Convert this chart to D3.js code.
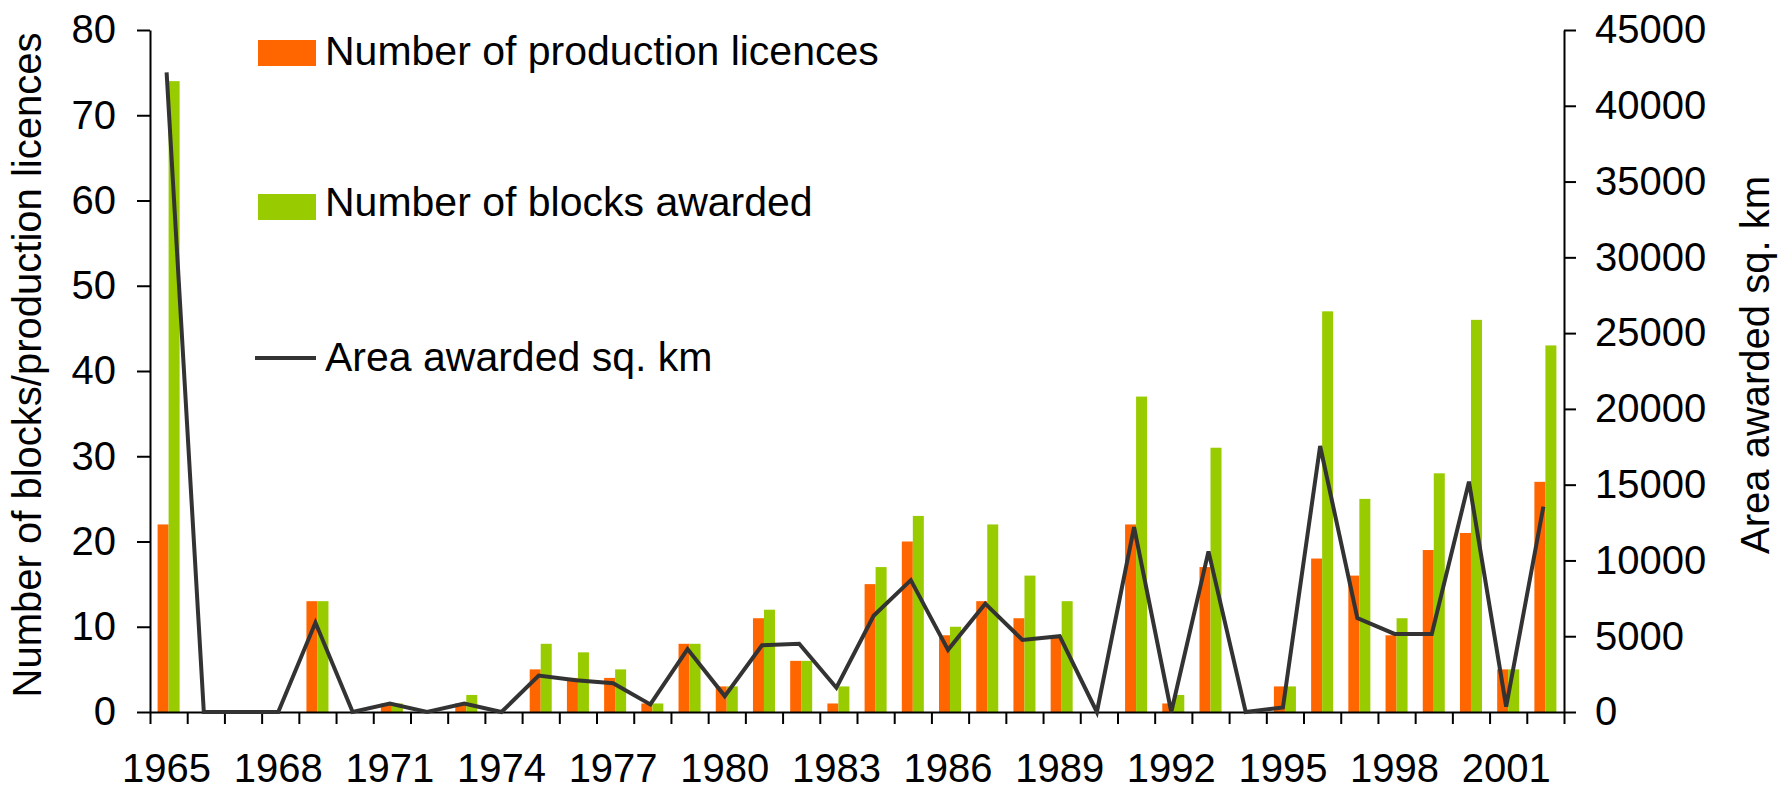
<!DOCTYPE html>
<html>
<head>
<meta charset="utf-8">
<script src="https://cdn.jsdelivr.net/npm/d3@7"></script>
<style>
    body { margin: 0; background: #fff; }
    text { font-family: "Liberation Sans", Arial, sans-serif; fill: #000; }
    .axis path, .axis line { stroke: #000; stroke-width: 2px; }
    .axis text { font-size: 40px; }
</style>
</head>
<body>
<div id="chart"></div>
<script>

// chart values
const years = [1965, 1966, 1967, 1968, 1969, 1970, 1971, 1972, 1973, 1974,
    1975, 1976, 1977, 1978, 1979, 1980, 1981, 1982, 1983, 1984,
    1985, 1986, 1987, 1988, 1989, 1990, 1991, 1992, 1993, 1994,
    1995, 1996, 1997, 1998, 1999, 2000, 2001, 2002];
const yearLabels = [1965, 1968, 1971, 1974, 1977, 1980, 1983, 1986, 1989, 1992, 1995, 1998, 2001];

const productionLicences = [22, 0, 0, 0, 13, 0, 1, 0, 1, 0,
    5, 4, 4, 1, 8, 3, 11, 6, 1, 15,
    20, 9, 13, 11, 9, 0, 22, 1, 17, 0,
    3, 18, 16, 9, 19, 21, 5, 27];
const blocksAwarded = [74, 0, 0, 0, 13, 0, 1, 0, 2, 0,
    8, 7, 5, 1, 8, 3, 12, 6, 3, 17,
    23, 10, 22, 16, 13, 0, 37, 2, 31, 0,
    3, 47, 25, 11, 28, 46, 5, 43];
const areaAwarded = [42200, 0, 0, 0, 5900, 0, 550, 0, 550, 0,
    2400, 2100, 1900, 500, 4150, 1050, 4400, 4500, 1600, 6350,
    8700, 4100, 7150, 4750, 5000, 0, 12200, 0, 10600, 0,
    300, 17550, 6200, 5150, 5150, 15200, 350, 13550];

const leftTicks = [0, 10, 20, 30, 40, 50, 60, 70, 80];
const rightTicks = [0, 5000, 10000, 15000, 20000, 25000, 30000, 35000, 40000, 45000];

const seriesNames = ["Number of production licences", "Number of blocks awarded", "Area awarded sq. km"];


class ComboVis {

    constructor(parentElement) {
        this.parentElement = parentElement;
        this.colors = {licences: "#FF6600", blocks: "#99CC00", area: "#333333"};
        this.initVis();
    }

    initVis() {
        let vis = this;

        vis.width = 1783;
        vis.height = 791;
        vis.left = 150;
        vis.right = 1564;
        vis.top = 30;
        vis.bottom = 712;

        vis.svg = d3.select("#" + vis.parentElement).append("svg")
            .attr("width", vis.width)
            .attr("height", vis.height);

        // scales
        vis.x = d3.scaleBand()
            .domain(years)
            .range([vis.left, vis.right]);

        vis.xEdge = d3.scaleLinear()
            .domain([0, years.length])
            .range([vis.left, vis.right]);

        vis.xInner = d3.scaleBand()
            .domain(["licences", "blocks"])
            .range([0, vis.x.bandwidth()])
            .paddingOuter(0.69);

        vis.yLeft = d3.scaleLinear()
            .domain([0, 80])
            .range([vis.bottom, vis.top]);

        vis.yRight = d3.scaleLinear()
            .domain([0, 45000])
            .range([vis.bottom, vis.top]);

        vis.wrangleData();
    }

    wrangleData() {
        let vis = this;

        vis.displayData = years.map((y, i) => ({
            year: y,
            licences: productionLicences[i],
            blocks: blocksAwarded[i],
            area: areaAwarded[i]
        }));

        vis.updateVis();
    }

    updateVis() {
        let vis = this;

        // bars
        let groups = vis.svg.append("g").selectAll(".year")
            .data(vis.displayData)
            .enter()
            .append("g")
            .attr("class", "year")
            .attr("transform", d => "translate(" + vis.x(d.year) + ",0)");

        groups.selectAll("rect")
            .data(d => ["licences", "blocks"].map(k => ({key: k, value: d[k]})))
            .enter()
            .append("rect")
            .attr("x", d => vis.xInner(d.key))
            .attr("width", vis.xInner.bandwidth())
            .attr("y", d => vis.yLeft(d.value))
            .attr("height", d => vis.bottom - vis.yLeft(d.value))
            .attr("fill", d => vis.colors[d.key]);

        // axes
        vis.svg.append("g")
            .attr("class", "axis x-axis")
            .attr("transform", "translate(0," + vis.bottom + ")")
            .call(d3.axisBottom(vis.xEdge)
                .tickValues(d3.range(0, years.length + 1))
                .tickSize(12)
                .tickSizeOuter(0)
                .tickFormat(""));

        vis.svg.append("g")
            .attr("class", "axis y-axis")
            .attr("transform", "translate(" + vis.left + ",0)")
            .call(d3.axisLeft(vis.yLeft)
                .tickValues(leftTicks)
                .tickSize(13)
                .tickSizeOuter(0)
                .tickPadding(21));

        vis.svg.append("g")
            .attr("class", "axis y2-axis")
            .attr("transform", "translate(" + vis.right + ",0)")
            .call(d3.axisRight(vis.yRight)
                .tickValues(rightTicks)
                .tickSize(12)
                .tickSizeOuter(0)
                .tickPadding(19)
                .tickFormat(d3.format("d")));

        vis.svg.selectAll(".axis text").attr("fill", "#000");

        // year labels every third year
        vis.svg.append("g").selectAll(".year-label")
            .data(yearLabels)
            .enter()
            .append("text")
            .attr("class", "year-label")
            .attr("x", d => vis.x(d) + vis.x.bandwidth() / 2 - 2)
            .attr("y", 782)
            .attr("text-anchor", "middle")
            .style("font-size", "40px")
            .text(d => d);

        // area line
        let line = d3.line()
            .x(d => vis.x(d.year) + vis.x.bandwidth() / 2 - 2)
            .y(d => vis.yRight(d.area));

        vis.svg.append("path")
            .datum(vis.displayData)
            .attr("d", line)
            .attr("fill", "none")
            .attr("stroke", vis.colors.area)
            .attr("stroke-width", 4);

        // axis titles
        vis.svg.append("text")
            .attr("transform", "translate(41,365) rotate(-90)")
            .attr("text-anchor", "middle")
            .style("font-size", "40px")
            .text("Number of blocks/production licences");

        vis.svg.append("text")
            .attr("transform", "translate(1769,365) rotate(-90)")
            .attr("text-anchor", "middle")
            .style("font-size", "40px")
            .text("Area awarded sq. km");

        // legend
        let legend = vis.svg.append("g").attr("transform", "translate(258,0)");
        let legendY = [53, 207, 358];
        let legendBase = [65, 216, 371];

        legend.append("rect")
            .attr("x", 0).attr("y", legendY[0] - 13)
            .attr("width", 58).attr("height", 26)
            .attr("fill", vis.colors.licences);
        legend.append("rect")
            .attr("x", 0).attr("y", legendY[1] - 13)
            .attr("width", 58).attr("height", 26)
            .attr("fill", vis.colors.blocks);
        legend.append("line")
            .attr("x1", -3).attr("x2", 58)
            .attr("y1", legendY[2]).attr("y2", legendY[2])
            .attr("stroke", vis.colors.area)
            .attr("stroke-width", 4);

        legend.selectAll(".legend-label")
            .data(seriesNames)
            .enter()
            .append("text")
            .attr("class", "legend-label")
            .attr("x", 67)
            .attr("y", (d, i) => legendBase[i])
            .style("font-size", "41px")
            .text(d => d);
    }
}

new ComboVis("chart");
</script>
</body>
</html>
